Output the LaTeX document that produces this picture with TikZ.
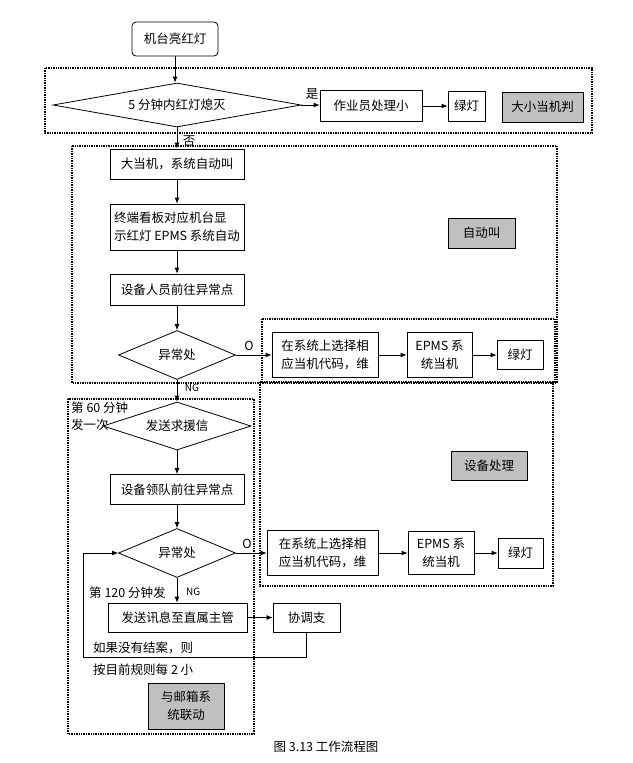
\documentclass[tikz,border=0pt]{standalone}
\usepackage{fontspec}
\setmainfont{Noto Sans CJK SC}
\usetikzlibrary{shapes.geometric,arrows.meta}
\definecolor{gfill}{RGB}{192,192,192}
\begin{document}
\begin{tikzpicture}[x=1pt,y=-1pt,
  font=\fontsize{12.5}{18}\selectfont,
  box/.style={draw, line width=0.8pt, inner sep=0pt, align=center},
  gbox/.style={box, fill=gfill},
  dia/.style={draw, diamond, inner sep=0pt, line width=0.8pt},
  arr/.style={-{Latex[length=6pt,width=5pt]}, line width=0.8pt},
  region/.style={draw, line width=1.4pt, dash pattern=on 1.4pt off 1pt},
  lbl/.style={inner sep=0pt}]
\useasboundingbox (0,0) rectangle (632,763);
% regions
\draw[region] (45,68) rectangle (592,133);
\draw[region] (72,146) rectangle (557,383);
\draw[region] (262,319) rectangle (555,382);
\draw[region] (260,382) rectangle (553,586);
\draw[region] (68,399) rectangle (254,734);
% top part
\node[box, rounded corners=4pt, minimum width=86pt, minimum height=34pt] (start) at (175,39) {机台亮红灯};
\node[dia, aspect=5.6, minimum width=248pt, minimum height=44pt] (d1) at (177,105) {5 分钟内红灯熄灭};
\node[box, minimum width=102pt, minimum height=31pt] (op) at (371,106) {作业员处理小};
\node[box, minimum width=37pt, minimum height=30pt] (g1) at (466.5,106) {绿灯};
\node[gbox, minimum width=81pt, minimum height=30pt] (gr1) at (542.5,107) {大小当机判};
\node[lbl] (yes) at (312,94) {是};
\node[lbl] (no) at (189,141) {否};
% auto call
\node[box, minimum width=134pt, minimum height=30pt] (b1) at (177,164) {大当机，系统自动叫};
\node[box, minimum width=134pt, minimum height=46pt, align=left] (b2) at (177,227) {终端看板对应机台显\\示红灯 EPMS 系统自动};
\node[box, minimum width=134pt, minimum height=31pt] (b3) at (177,289.5) {设备人员前往异常点};
\node[dia, aspect=2.4, minimum width=117pt, minimum height=49pt] (d2) at (177,355) {异常处};
\node[box, minimum width=106pt, minimum height=45pt] (c1) at (325,355) {在系统上选择相\\应当机代码，维};
\node[box, minimum width=65pt, minimum height=45pt] (c2) at (439.5,355) {EPMS 系\\统当机};
\node[box, minimum width=46pt, minimum height=29pt] (c3) at (520,355) {绿灯};
\node[lbl] (o1) at (249,346) {O};
\node[gbox, minimum width=67pt, minimum height=30pt] (gr2) at (481.5,233) {自动叫};
\node[lbl, font=\fontsize{10}{12}\selectfont] (ng1) at (192,388) {NG};
% equipment handling
\node[lbl, anchor=west] (t60a) at (71,408) {第 60 分钟};
\node[lbl, anchor=west] (t60b) at (71,425) {发一次};
\node[dia, aspect=3.1, minimum width=148pt, minimum height=48pt, fill=white] (d3) at (177,426) {发送求援信};
\node[box, minimum width=134pt, minimum height=30pt] (b4) at (177,489.5) {设备领队前往异常点};
\node[dia, aspect=2.4, minimum width=117pt, minimum height=49pt] (d4) at (177,553) {异常处};
\node[box, minimum width=111pt, minimum height=45pt] (e1) at (322.5,553) {在系统上选择相\\应当机代码，维};
\node[box, minimum width=66pt, minimum height=43pt] (e2) at (441,553) {EPMS 系\\统当机};
\node[box, minimum width=45pt, minimum height=30pt] (e3) at (520.5,553) {绿灯};
\node[lbl] (o2) at (247,544) {O};
\node[gbox, minimum width=76pt, minimum height=29pt] (gr3) at (489,465.5) {设备处理};
\node[lbl, anchor=west] (t120) at (89,593) {第 120 分钟发};
\node[lbl, anchor=west, font=\fontsize{10}{12}\selectfont] (ng2) at (186,592) {NG};
\node[box, minimum width=139pt, minimum height=29pt] (f1) at (177.5,617.5) {发送讯息至直属主管};
\node[box, minimum width=67pt, minimum height=29pt] (f2) at (306.5,617.5) {协调支};
\node[lbl, anchor=west] (tif1) at (93,648) {如果没有结案，则};
\node[lbl, anchor=west] (tif2) at (93,670) {按目前规则每 2 小};
\node[gbox, minimum width=76pt, minimum height=46pt] (gr4) at (186,706) {与邮箱系\\统联动};
\node[lbl] (cap) at (326,747) {图 3.13 工作流程图};
% connectors
\draw[arr] (start.south) -- (start.south |- d1.north);
\draw[arr] (d1.east) -- (d1.east -| op.west);
\draw[arr] (op.east) -- (g1.west);
\draw[arr] (d1.south) -- (b1.north);
\draw[arr] (b1) -- (b2);
\draw[arr] (b2) -- (b3);
\draw[arr] (b3) -- (d2);
\draw[arr] (d2.east) -- (c1.west);
\draw[arr] (c1) -- (c2);
\draw[arr] (c2) -- (c3);
\draw[arr] (d2.south) -- (d3.north);
\draw[arr] (d3) -- (b4);
\draw[arr] (b4) -- (d4);
\draw[arr] (d4.east) -- (e1.west);
\draw[arr] (e1) -- (e2);
\draw[arr] (e2) -- (e3);
\draw[arr] (d4.south) -- (d4.south |- f1.north);
\draw[arr] (f1.east) -- (f2.west);
\coordinate (lp) at (83,657);
\draw[arr] (f2.south) |- (lp) |- (d4.west);
\end{tikzpicture}
\end{document}
